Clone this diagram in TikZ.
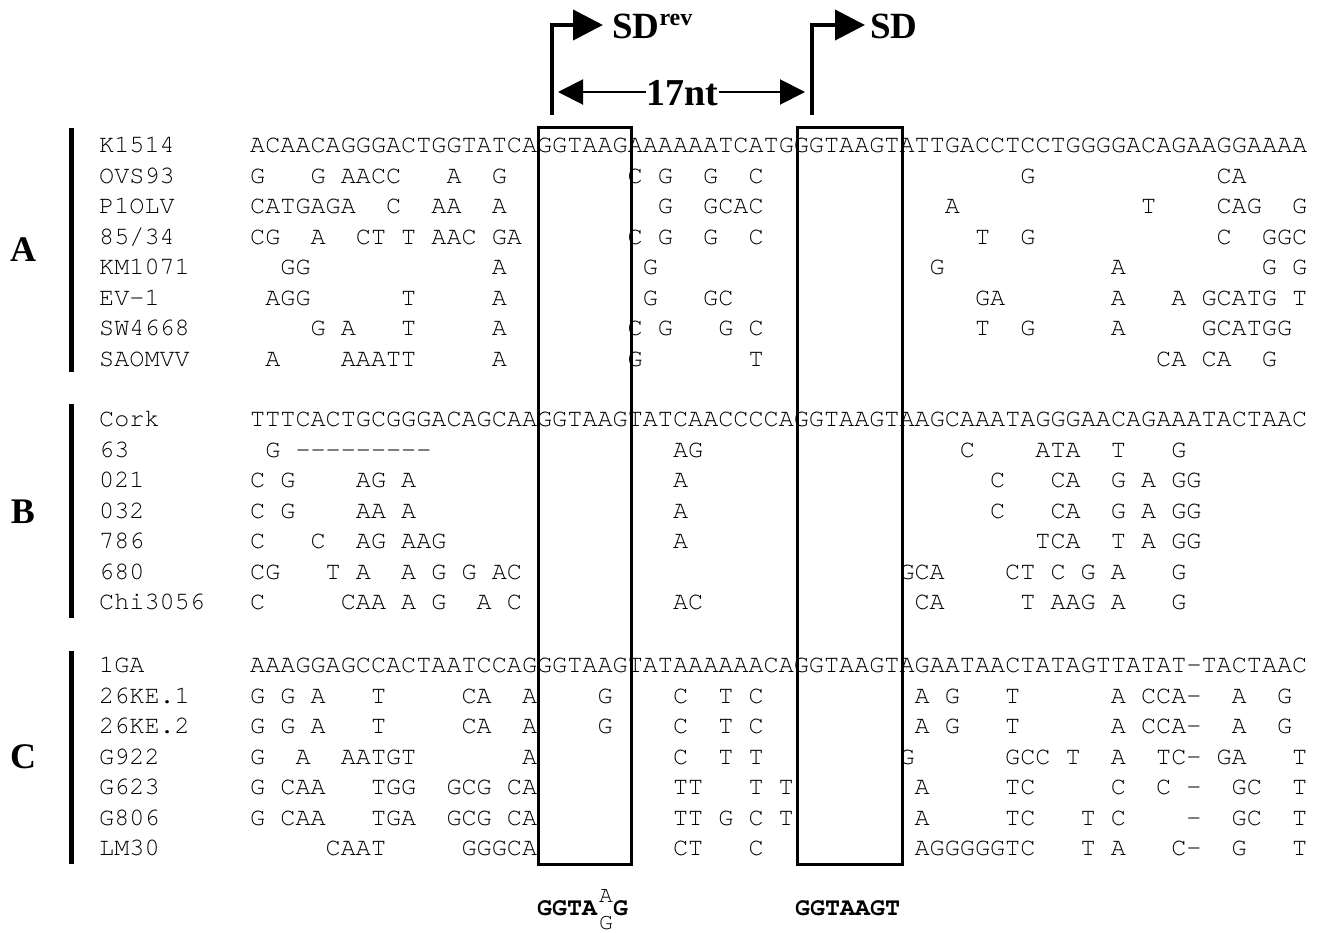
\documentclass[tikz,border=0pt]{standalone}
\usepackage{fontspec}
\usetikzlibrary{arrows.meta}
\newfontfamily\seqfont{TeX Gyre Cursor}[Ligatures=TeXOff]
\newfontfamily\labfont{Liberation Serif}
\newcommand{\seqrow}[4]{%
  \node[seq] (lab-#1) at (99,#2) {#3};
  \foreach \c/\s in {#4} {\node[seq] (#1-\c) at ({250+15.1*\c},#2) {\s};}
}
\begin{document}
\begin{tikzpicture}[x=1pt,y=-1pt,
  seq/.style={font=\seqfont\fontsize{25.17}{30}\selectfont, anchor=base west, inner sep=0pt, text=black},
  grp/.style={font=\labfont\bfseries\fontsize{36}{36}\selectfont, inner sep=0pt},
  bar/.style={line width=5pt},
  boxl/.style={line width=3pt},
  bent/.style={line width=4pt, -{Triangle[length=30pt,width=30pt]}},
  dbl/.style={line width=2pt, -{Triangle[length=25pt,width=25pt]}},
  ttl/.style={font=\labfont\bfseries\fontsize{37}{37}\selectfont, inner sep=0pt, anchor=base west},
  cons/.style={font=\seqfont\bfseries\fontsize{25}{25}\selectfont, inner sep=0pt, anchor=base west},
  alt/.style={font=\seqfont\fontsize{23}{23}\selectfont, inner sep=0pt, anchor=base west}
  ]
\useasboundingbox (0,0) rectangle (1320,932);
\fill[white] (0,0) rectangle (1320,932);

% group A
\seqrow{a1}{152.5}{K1514}{0/ACAACAGGGACTGGTATCAGGTAAGAAAAAATCATGGGTAAGTATTGACCTCCTGGGGACAGAAGGAAAA}
\seqrow{a2}{183}{OVS93}{0/G,4/G,6/AACC,13/A,16/G,25/C,27/G,30/G,33/C,51/G,64/CA}
\seqrow{a3}{213.5}{P1OLV}{0/CATGAGA,9/C,12/AA,16/A,27/G,30/GCAC,46/A,59/T,64/CAG,69/G}
\seqrow{a4}{244}{85/34}{0/CG,4/A,7/CT,10/T,12/AAC,16/GA,25/C,27/G,30/G,33/C,48/T,51/G,64/C,67/GGC}
\seqrow{a5}{274.5}{KM1071}{2/GG,16/A,26/G,45/G,57/A,67/G,69/G}
\seqrow{a6}{305}{EV-1}{1/AGG,10/T,16/A,26/G,30/GC,48/GA,57/A,61/A,63/GCATG,69/T}
\seqrow{a7}{335.5}{SW4668}{4/G,6/A,10/T,16/A,25/C,27/G,31/G,33/C,48/T,51/G,57/A,63/GCATGG}
\seqrow{a8}{366}{SAOMVV}{1/A,6/AAATT,16/A,25/G,33/T,60/CA,63/CA,67/G}

% group B
\seqrow{b1}{426.5}{Cork}{0/TTTCACTGCGGGACAGCAAGGTAAGTATCAACCCCAGGTAAGTAAGCAAATAGGGAACAGAAATACTAAC}
\seqrow{b2}{457}{63}{1/G,3/---------,28/AG,47/C,52/ATA,57/T,61/G}
\seqrow{b3}{487.5}{021}{0/C,2/G,7/AG,10/A,28/A,49/C,53/CA,57/G,59/A,61/GG}
\seqrow{b4}{518}{032}{0/C,2/G,7/AA,10/A,28/A,49/C,53/CA,57/G,59/A,61/GG}
\seqrow{b5}{548.5}{786}{0/C,4/C,7/AG,10/AAG,28/A,52/TCA,57/T,59/A,61/GG}
\seqrow{b6}{579}{680}{0/CG,5/T,7/A,10/A,12/G,14/G,16/AC,43/GCA,50/CT,53/C,55/G,57/A,61/G}
\seqrow{b7}{609.5}{Chi3056}{0/C,6/CAA,10/A,12/G,15/A,17/C,28/AC,44/CA,51/T,53/AAG,57/A,61/G}

% group C
\seqrow{c1}{672.5}{1GA}{0/AAAGGAGCCACTAATCCAGGGTAAGTATAAAAAACAGGTAAGTAGAATAACTATAGTTATAT-TACTAAC}
\seqrow{c2}{703}{26KE.1}{0/G,2/G,4/A,8/T,14/CA,18/A,23/G,28/C,31/T,33/C,44/A,46/G,50/T,57/A,59/CCA-,65/A,68/G}
\seqrow{c3}{733.5}{26KE.2}{0/G,2/G,4/A,8/T,14/CA,18/A,23/G,28/C,31/T,33/C,44/A,46/G,50/T,57/A,59/CCA-,65/A,68/G}
\seqrow{c4}{764}{G922}{0/G,3/A,6/AATGT,18/A,28/C,31/T,33/T,43/G,50/GCC,54/T,57/A,60/TC-,64/GA,69/T}
\seqrow{c5}{794.5}{G623}{0/G,2/CAA,8/TGG,13/GCG,17/CA,28/TT,33/T,35/T,44/A,50/TC,57/C,60/C,62/-,65/GC,69/T}
\seqrow{c6}{825}{G806}{0/G,2/CAA,8/TGA,13/GCG,17/CA,28/TT,31/G,33/C,35/T,44/A,50/TC,55/T,57/C,62/-,65/GC,69/T}
\seqrow{c7}{855.5}{LM30}{5/CAAT,14/GGGCA,28/CT,33/C,44/AGGGGGTC,55/T,57/A,61/C-,65/G,69/T}

% group bars and labels
\draw[bar] (71.5,128) -- (71.5,372);
\draw[bar] (71.5,404) -- (71.5,618);
\draw[bar] (71.5,651) -- (71.5,864);
\node[grp] (gA) at (23,250) {A};
\node[grp] (gB) at (23,512) {B};
\node[grp] (gC) at (23,757) {C};

% boxes
\draw[boxl] (538,127) rectangle (631,864);
\draw[boxl] (797,127) rectangle (902,864);

% SD arrows
\coordinate (b1) at (552,115);
\coordinate (t1) at (603,25);
\coordinate (b2) at (812,115);
\coordinate (t2) at (865,25);
\draw[bent] (b1) |- (t1);
\draw[bent] (b2) |- (t2);
\node[ttl] (sdrev) at (612,38) {SD\raisebox{13pt}{\fontsize{24}{24}\selectfont rev}};
\node[ttl] (sd) at (870,38) {SD};

% 17nt
\node[font=\labfont\bfseries\fontsize{38}{38}\selectfont, inner sep=0.5pt, anchor=base] (nt) at (682.5,105) {17nt};
\coordinate (l17) at (558,92);
\coordinate (r17) at (805,92);
\draw[dbl] (nt.west |- l17) -- (l17);
\draw[dbl] (nt.east |- r17) -- (r17);

% consensus
\node[cons] (k1) at (537,915) {GGTA};
\node[alt] (k1a) at (599,902) {A};
\node[alt] (k1g) at (599,929) {G};
\node[cons] (k1e) at (613,915) {G};
\node[cons] (k2) at (795,915) {GGTAAGT};
\end{tikzpicture}
\end{document}
